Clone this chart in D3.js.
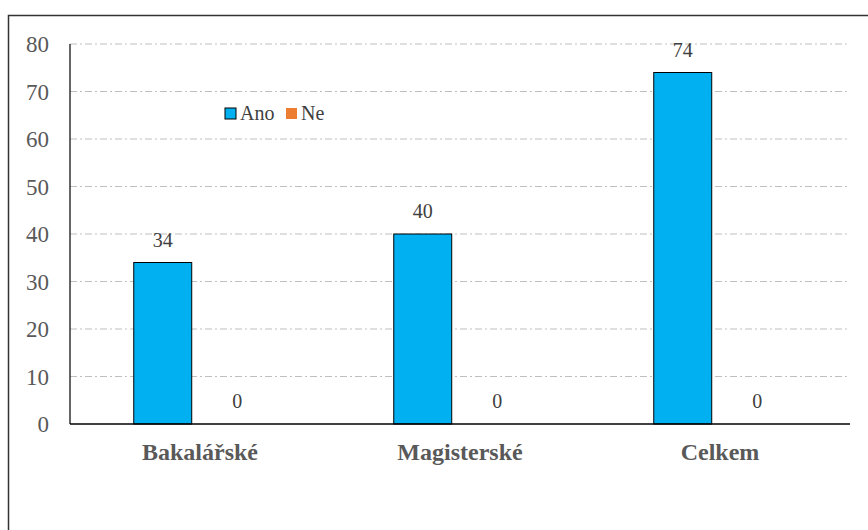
<!DOCTYPE html>
<html>
<head>
<meta charset="utf-8">
<script src="https://cdn.jsdelivr.net/npm/d3@7"></script>
</head>
<body style="margin:0; background:#fff">
<script>
'use strict';

// chart data
let categories = ["Bakalářské", "Magisterské", "Celkem"];
let seriesNames = ["Ano", "Ne"];
let ano = [34, 40, 74];
let ne = [0, 0, 0];
let yTicks = [0, 10, 20, 30, 40, 50, 60, 70, 80];
let colors = { "Ano": "#00B0F0", "Ne": "#ED7D31" };
let serif = "'Liberation Serif', 'Times New Roman', Tinos, serif";

(function() {

  let svg = d3.select('body').append('svg')
    .attr('width', 868)
    .attr('height', 530)
    .style('display', 'block');

  // outer chart border
  svg.append('rect')
    .attr('x', 8.5).attr('y', 15.5)
    .attr('width', 870).attr('height', 530)
    .attr('fill', 'none')
    .attr('stroke', '#333')
    .attr('stroke-width', 1.5);

  let plotLeft = 70, plotRight = 850, plotTop = 44, plotBottom = 424;

  let x0 = d3.scaleBand().domain(categories).range([plotLeft, plotRight]);
  let x1 = d3.scaleBand().domain(seriesNames)
    .range([63.75, 196.25]).paddingInner(0.222);
  let y = d3.scaleLinear().domain([0, 80]).range([plotBottom, plotTop]);

  // gridlines
  svg.append('g').selectAll('line')
    .data(yTicks.filter(t => t > 0))
    .enter().append('line')
    .attr('x1', plotLeft).attr('x2', plotRight)
    .attr('y1', d => y(d)).attr('y2', d => y(d))
    .attr('stroke', '#BFBFBF')
    .attr('stroke-width', 1)
    .attr('stroke-dasharray', '7,3,2,3');

  // y tick labels
  svg.append('g').selectAll('text')
    .data(yTicks)
    .enter().append('text')
    .attr('x', 49)
    .attr('y', d => y(d) + 8)
    .attr('text-anchor', 'end')
    .style('font-family', serif, 'important')
    .style('font-size', '23px')
    .attr('fill', '#595959')
    .text(d => d);

  // rows for bars
  let rows = [];
  categories.forEach((c, i) => {
    rows.push({ cat: c, series: "Ano", value: ano[i] });
    rows.push({ cat: c, series: "Ne", value: ne[i] });
  });

  svg.append('g').selectAll('rect')
    .data(rows.filter(d => d.value > 0))
    .enter().append('rect')
    .attr('x', d => x0(d.cat) + x1(d.series))
    .attr('y', d => y(d.value))
    .attr('width', x1.bandwidth())
    .attr('height', d => y(0) - y(d.value))
    .attr('fill', d => colors[d.series])
    .attr('stroke', '#000')
    .attr('stroke-width', 1);

  // data labels
  svg.append('g').selectAll('text')
    .data(rows)
    .enter().append('text')
    .attr('x', d => x0(d.cat) + x1(d.series) + x1.bandwidth() / 2)
    .attr('y', d => y(d.value) - 16)
    .attr('text-anchor', 'middle')
    .style('font-family', serif, 'important')
    .style('font-size', '20px')
    .attr('fill', '#404040')
    .text(d => d.value);

  // axes lines
  svg.append('line')
    .attr('x1', plotLeft).attr('x2', plotLeft)
    .attr('y1', plotTop).attr('y2', plotBottom)
    .attr('stroke', '#000').attr('stroke-width', 1.2);
  svg.append('line')
    .attr('x1', plotLeft).attr('x2', plotRight)
    .attr('y1', plotBottom).attr('y2', plotBottom)
    .attr('stroke', '#000').attr('stroke-width', 1.5);

  // category labels
  svg.append('g').selectAll('text')
    .data(categories)
    .enter().append('text')
    .attr('x', d => x0(d) + x0.bandwidth() / 2)
    .attr('y', 460)
    .attr('text-anchor', 'middle')
    .style('font-family', serif, 'important')
    .style('font-size', '24px')
    .style('font-weight', 'bold')
    .attr('fill', '#595959')
    .text(d => d);

  // legend
  let legend = svg.append('g');
  let legendX = [225, 286];
  seriesNames.forEach((s, i) => {
    legend.append('rect')
      .attr('x', legendX[i]).attr('y', 108)
      .attr('width', 11).attr('height', 11)
      .attr('fill', colors[s])
      .attr('stroke', s === "Ano" ? '#000' : 'none')
      .attr('stroke-width', 1);
    legend.append('text')
      .attr('x', legendX[i] + 15)
      .attr('y', 120)
      .style('font-family', serif, 'important')
      .style('font-size', '20px')
      .attr('fill', '#404040')
      .text(s);
  });

})();
</script>
</body>
</html>
